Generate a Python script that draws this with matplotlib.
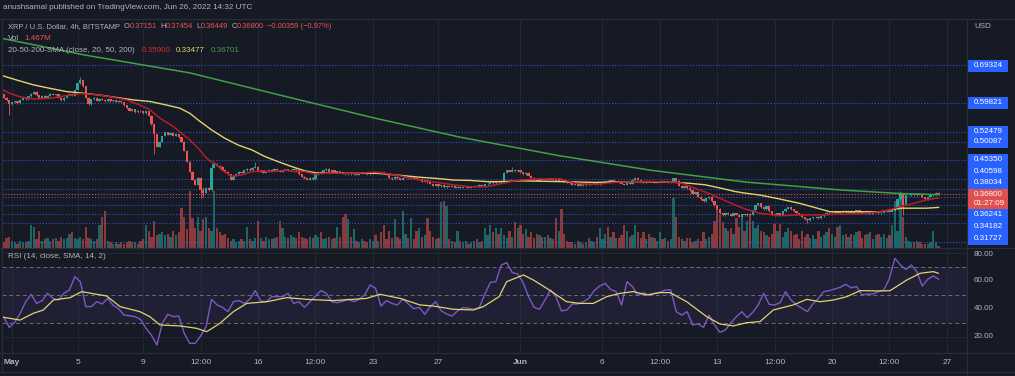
import numpy as np
import matplotlib.pyplot as plt
from matplotlib.patches import Rectangle
from matplotlib.transforms import blended_transform_factory

plt.rcParams['font.family'] = ['Liberation Sans', 'DejaVu Sans']

# ---------------- data ----------------
first_open = 0.630
closes = [
    0.625, 0.620, 0.612, 0.605, 0.595, 0.600, 0.603, 0.598, 0.606, 0.610, 0.608,
    0.615, 0.622, 0.626, 0.618, 0.612, 0.616, 0.611, 0.616, 0.622, 0.619, 0.620,
    0.612, 0.605, 0.611, 0.618, 0.622, 0.616, 0.632, 0.648, 0.655, 0.640, 0.612, 0.595,
    0.608, 0.612, 0.604, 0.609, 0.606, 0.603, 0.608, 0.602, 0.605, 0.601, 0.604, 0.600,
    0.592, 0.585, 0.578, 0.582, 0.575, 0.579, 0.577, 0.572, 0.578, 0.566,
    0.545, 0.520, 0.488, 0.500, 0.515, 0.525, 0.518, 0.522, 0.515, 0.520, 0.512,
    0.500, 0.478, 0.450, 0.425, 0.405, 0.392, 0.410, 0.380, 0.372, 0.385, 0.378,
    0.435, 0.445, 0.440, 0.438, 0.430, 0.425, 0.418, 0.405,
    0.415, 0.420, 0.425, 0.422, 0.428, 0.432, 0.428, 0.435, 0.438,
    0.425, 0.428, 0.422, 0.426, 0.430, 0.427, 0.432, 0.428, 0.425, 0.429, 0.431, 0.427, 0.430,
    0.433, 0.428, 0.418, 0.412, 0.408, 0.404, 0.410, 0.406, 0.418, 0.425, 0.422,
    0.428, 0.432, 0.425, 0.428, 0.422, 0.426, 0.424,
    0.420, 0.418, 0.422, 0.419, 0.421, 0.417, 0.420, 0.423, 0.420, 0.418, 0.421, 0.424, 0.422,
    0.425, 0.423, 0.420, 0.418, 0.410, 0.406, 0.412, 0.408, 0.405,
    0.410, 0.413, 0.409, 0.412, 0.408, 0.404, 0.407, 0.400, 0.403, 0.398,
    0.395, 0.390, 0.393, 0.388, 0.392, 0.386, 0.390, 0.387, 0.389, 0.385,
    0.387, 0.384, 0.386, 0.388, 0.385, 0.387, 0.390, 0.388, 0.392, 0.389, 0.393,
    0.395, 0.398, 0.396, 0.400, 0.398, 0.402, 0.422,
    0.428, 0.425, 0.430, 0.426, 0.428, 0.424, 0.418, 0.422, 0.415,
    0.410, 0.405, 0.402, 0.407, 0.404, 0.406,
    0.404, 0.408, 0.405, 0.402, 0.406, 0.403, 0.400, 0.398, 0.396,
    0.392, 0.394, 0.390, 0.393, 0.391, 0.395, 0.392, 0.394, 0.396, 0.393, 0.395,
    0.398, 0.402, 0.400, 0.403, 0.399, 0.401, 0.398, 0.394, 0.392, 0.397, 0.395,
    0.405, 0.410, 0.404, 0.400, 0.398, 0.402, 0.399, 0.401, 0.397, 0.400, 0.402,
    0.399, 0.401, 0.398, 0.400, 0.408, 0.402,
    0.390, 0.385, 0.388, 0.383, 0.378, 0.370, 0.374, 0.362, 0.355, 0.350, 0.358,
    0.362, 0.350, 0.340, 0.332, 0.320, 0.315, 0.322,
    0.318, 0.314, 0.320, 0.316, 0.312, 0.318, 0.315, 0.319, 0.316,
    0.328, 0.340, 0.345, 0.335, 0.330, 0.338, 0.325, 0.318, 0.315, 0.320, 0.316,
    0.325, 0.332, 0.336, 0.330, 0.325, 0.320, 0.318, 0.310, 0.305, 0.302, 0.308,
    0.310, 0.312, 0.308, 0.313, 0.318, 0.322, 0.320,
    0.322, 0.325, 0.321, 0.324, 0.327, 0.323, 0.326, 0.322, 0.325, 0.328, 0.324,
    0.322, 0.320, 0.323, 0.319, 0.321, 0.324, 0.320, 0.322,
    0.325, 0.327, 0.324, 0.328, 0.330, 0.355, 0.368, 0.342, 0.365,
    0.366, 0.368, 0.365, 0.369, 0.367, 0.360, 0.356,
    0.362, 0.365, 0.368, 0.37151, 0.368,
]
# candles whose wicks stick out clearly
wick_idx = [4, 30, 57, 74, 75, 78, 94, 188, 296, 330, 331]
wick_hi = [0.600, 0.663, 0.545, 0.392, 0.385, 0.446, 0.448, 0.436, 0.308, 0.3745, 0.368]
wick_lo = [0.568, 0.648, 0.472, 0.361, 0.362, 0.378, 0.435, 0.426, 0.296, 0.355, 0.318]

volume = [  # millions
    5, 6, 4, 7, 8, 5, 4, 3, 5, 4,  4, 5, 16, 15, 6, 12, 5, 6, 7, 5,
    6, 7, 5, 8, 6, 7, 10, 11, 7, 6,  8, 6, 15, 7, 6, 5, 6, 16, 22, 26,
    5, 4, 3, 4, 3, 4, 3, 4, 5, 4,  4, 3, 5, 6, 16, 12, 8, 19, 9, 10,
    11, 9, 10, 8, 12, 9, 11, 28, 22, 13,  40, 21, 14, 22, 12, 20, 22, 14, 12, 40,
    14, 11, 9, 10, 7, 5, 6, 4, 5, 6,  5, 15, 6, 5, 7, 19, 7, 5, 8, 6,
    6, 7, 8, 19, 14, 8, 7, 9, 8, 7,  11, 8, 7, 6, 8, 7, 9, 8, 11, 6,
    7, 8, 6, 7, 15, 8, 22, 24, 20, 8,  13, 5, 4, 6, 5, 4, 6, 5, 9, 5,
    11, 16, 6, 12, 7, 20, 8, 6, 26, 10,  7, 21, 6, 12, 14, 8, 9, 21, 12, 8,
    6, 7, 32, 33, 29, 6, 5, 4, 12, 5,  4, 5, 3, 4, 5, 6, 4, 5, 14, 9,
    16, 11, 14, 10, 14, 9, 7, 12, 8, 18,  14, 16, 10, 13, 8, 11, 7, 10, 9, 8,
    8, 9, 7, 6, 21, 12, 27, 10, 5, 4,  4, 3, 5, 4, 3, 4, 7, 5, 4, 8,
    14, 6, 10, 15, 8, 11, 7, 7, 9, 16,  12, 8, 9, 16, 11, 7, 11, 6, 10, 8,
    7, 5, 11, 6, 7, 5, 6, 35, 22, 8,  6, 5, 7, 7, 4, 5, 6, 5, 11, 6,
    8, 10, 19, 27, 23, 18, 14, 12, 14, 10,  21, 15, 23, 12, 19, 23, 19, 14, 16, 12,
    11, 9, 8, 10, 17, 12, 17, 8, 11, 14,  12, 9, 10, 6, 12, 8, 10, 7, 9, 6,
    12, 8, 9, 11, 14, 10, 8, 15, 16, 9,  10, 8, 10, 9, 11, 12, 7, 9, 10, 11,
    6, 9, 10, 8, 10, 7, 9, 16, 33, 12,  37, 22, 8, 5, 4, 4, 5, 4, 3, 3,
    3, 4, 12, 4, 1.467,
]

# RSI(14), one reading every second candle
rsi = [
    36.9, 34.0, 26.9, 30.5, 36.9, 45.2, 50.5, 44.0, 46.0, 51.2,
    47.6, 46.4, 51.2, 53.6, 63.1, 59.5, 41.7, 41.7, 45.2, 43.6,
    47.6, 42.6, 40.2, 35.7, 35.2, 34.5, 32.6, 26.2, 21.4, 14.3,
    29.8, 36.2, 34.5, 35.0, 22.6, 15.5, 15.5, 20.7, 27.4, 46.9,
    42.9, 41.2, 38.1, 45.2, 46.0, 44.0, 47.1, 53.1, 45.7, 45.2,
    48.8, 48.8, 48.8, 51.2, 44.0, 45.2, 41.2, 45.2, 49.3, 53.1,
    51.2, 45.2, 44.5, 45.5, 47.1, 45.2, 46.9, 50.0, 57.1, 54.8,
    42.1, 46.0, 44.0, 42.9, 47.1, 43.6, 40.2, 41.2, 36.2, 41.7,
    45.2, 38.8, 36.4, 35.0, 38.6, 41.0, 40.5, 39.8, 41.2, 50.7,
    59.0, 59.5, 71.4, 73.1, 66.0, 65.0, 58.8, 48.8, 41.2, 39.8,
    46.4, 53.6, 48.8, 38.6, 39.3, 43.6, 43.6, 45.2, 47.6, 53.1,
    56.4, 58.3, 54.0, 52.4, 42.9, 59.5, 56.0, 49.5, 51.7, 50.0,
    51.2, 51.9, 53.6, 53.6, 38.1, 35.7, 38.1, 28.6, 29.3, 26.9,
    35.7, 28.6, 23.3, 25.0, 30.2, 34.5, 38.1, 33.8, 37.6, 42.9,
    51.2, 43.3, 42.9, 44.5, 52.4, 46.4, 42.9, 40.5, 38.1, 43.6,
    47.6, 52.4, 53.1, 54.3, 55.5, 57.6, 55.2, 56.0, 50.0, 50.7,
    50.7, 52.4, 53.6, 61.9, 76.2, 71.4, 68.3, 71.4, 66.7, 56.4,
    61.2, 63.6, 61.3,
]
# moving averages, (days since May 1, value)
rsi_ma_day = [-0.73, 0.49, 1.30, 1.91, 2.52, 3.54, 4.25, 5.16, 5.77, 6.59, 7.80, 8.41, 9.02,
              10.24, 11.26, 11.87, 12.68, 13.50, 14.31, 15.53, 16.75, 17.97, 19.59, 20.81,
              21.63, 22.44, 23.66, 24.88, 25.69, 26.91, 28.13, 28.74, 29.70, 30.16, 31.18,
              31.79, 32.60, 33.82, 34.63, 35.45, 36.26, 37.07, 37.89, 38.70, 39.51, 40.12,
              41.14, 42.36, 43.17, 43.98, 44.80, 45.61, 46.42, 47.64, 48.46, 49.27, 50.08,
              50.90, 51.71, 52.93, 53.54, 54.56, 55.37, 56.18, 56.48]
rsi_ma = [34.5, 32.1, 36.9, 39.3, 46.4, 48.1, 52.4, 50.5, 49.3, 41.7, 38.1, 34.5, 28.6,
          27.9, 26.2, 23.8, 29.8, 38.1, 44.0, 45.2, 48.1, 46.9, 46.0, 46.9,
          47.6, 50.5, 47.6, 42.9, 42.1, 39.8, 39.3, 41.7, 48.8, 59.5, 64.3,
          60.7, 54.8, 45.2, 44.0, 44.0, 48.8, 51.2, 52.4, 50.0, 51.7, 51.7,
          45.2, 34.5, 29.3, 27.9, 30.2, 31.0, 39.3, 42.9, 46.9, 45.2, 46.4,
          48.8, 53.1, 52.9, 53.1, 60.7, 65.5, 66.7, 65.5]

sma20_day = [-0.73, -0.12, 0.49, 1.30, 2.32, 3.33, 4.15, 4.96, 5.98, 6.99, 7.80, 8.41, 9.02,
             9.84, 10.45, 10.85, 11.36, 11.77, 12.07, 12.38, 12.79, 13.40, 14.01, 14.62,
             15.23, 15.84, 16.65, 17.26, 17.87, 18.48, 19.09, 20.10, 21.12, 22.13, 23.05,
             23.86, 24.88, 25.90, 26.91, 27.93, 28.94, 29.96, 30.98, 31.99, 33.41, 34.33,
             35.55, 36.77, 37.99, 39.21, 40.43, 40.84, 41.65, 42.46, 43.27, 44.09, 44.70,
             45.61, 46.83, 48.05, 49.27, 50.49, 51.71, 52.93, 53.54, 54.15, 54.96, 55.77, 56.50]
sma20 = [0.635, 0.622, 0.614, 0.608, 0.610, 0.617, 0.622, 0.620, 0.614, 0.606, 0.593, 0.581, 0.560,
         0.539, 0.518, 0.505, 0.484, 0.463, 0.452, 0.446, 0.429, 0.413, 0.417, 0.425,
         0.427, 0.425, 0.429, 0.425, 0.425, 0.419, 0.421, 0.421, 0.421, 0.424, 0.419,
         0.413, 0.404, 0.398, 0.392, 0.387, 0.387, 0.396, 0.404, 0.407, 0.407, 0.396,
         0.393, 0.398, 0.400, 0.400, 0.398, 0.396, 0.383, 0.371, 0.356, 0.341, 0.331,
         0.320, 0.314, 0.316, 0.316, 0.318, 0.319, 0.324, 0.329, 0.337, 0.345, 0.354, 0.359]

sma50_day = [-0.73, 0.29, 1.30, 2.32, 3.33, 4.35, 5.37, 6.38, 7.40, 8.41, 9.43, 10.24, 10.85,
             11.36, 12.18, 12.99, 13.80, 14.62, 15.43, 16.24, 17.05, 17.87, 18.68, 19.70,
             20.71, 22.13, 22.85, 23.86, 24.88, 25.90, 26.91, 27.93, 28.94, 29.96, 30.98,
             33.41, 35.55, 37.99, 40.43, 41.24, 42.26, 43.27, 44.09, 44.70, 45.61, 46.83,
             48.05, 49.27, 49.88, 51.71, 52.93, 54.15, 55.77, 56.50]
sma50 = [0.669, 0.656, 0.644, 0.635, 0.627, 0.623, 0.618, 0.612, 0.606, 0.602, 0.593, 0.585, 0.572,
         0.555, 0.530, 0.509, 0.492, 0.480, 0.463, 0.450, 0.438, 0.427, 0.421, 0.421,
         0.421, 0.421, 0.419, 0.415, 0.411, 0.408, 0.404, 0.403, 0.400, 0.400, 0.402,
         0.400, 0.398, 0.400, 0.398, 0.396, 0.392, 0.383, 0.375, 0.371, 0.366, 0.356,
         0.345, 0.331, 0.324, 0.324, 0.324, 0.333, 0.333, 0.335]

sma200_day = [-0.73, 4.45, 10.85, 16.34, 22.13, 27.32, 33.41, 38.90, 44.70, 50.49, 54.15, 56.50]
sma200 = [0.762, 0.719, 0.674, 0.618, 0.560, 0.512, 0.465, 0.429, 0.399, 0.379, 0.370, 0.367]

# horizontal levels drawn on the chart
levels = [0.69324, 0.59821, 0.52479, 0.50087, 0.45350, 0.40598, 0.38034, 0.36241, 0.34182, 0.31727]
extra_levels = [0.2964, 0.2485]
level_label_row = [65.5, 102.5, 131.5, 141.5, 160, 171.5, 183, 214.5, 226.5, 238.5]

tick_days = [0, 4, 8, 11.5, 15, 18.5, 22, 26, 31, 36, 39.5, 43, 46.5, 50, 53.5, 57]
tick_labels = ['May', '5', '9', '12:00', '16', '12:00', '23', '27',
               'Jun', '6', '12:00', '13', '12:00', '20', '12:00', '27']

# ---------------- style ----------------
BG = '#161a25'
TXT = '#b2b5be'
UP, DN = '#26a69a', '#ef5350'
GRID = '#222632'
SEP = '#2a2e39'
FS = 5.8
W, H = 1015, 376


def rect(x0, y0, x1, y1):
    return [x0 / W, 1 - y1 / H, (x1 - x0) / W, (y1 - y0) / H]


fig = plt.figure(figsize=(W / 100, H / 100), dpi=100, facecolor=BG)

# price pane: row 194.3 is 0.368, 0.002521 per pixel
ROW0, P0, PPX = 194.3, 0.368, 0.002521
XLIM = (-0.61, 58.23)

ax_v = fig.add_axes(rect(2, 19, 967, 248))
ax_v.set_facecolor(BG)
ax = fig.add_axes(rect(2, 19, 967, 248), sharex=ax_v)
ax.patch.set_visible(False)
ax_r = fig.add_axes(rect(2, 248, 967, 353))
ax_r.set_facecolor(BG)

n = len(closes)
days = 56.5 - (n - 1 - np.arange(n)) / 6
c = np.array(closes)
o = np.array([first_open] + closes[:-1])
hi = np.maximum(o, c)
lo = np.minimum(o, c)
for i, h, l in zip(wick_idx, wick_hi, wick_lo):
    hi[i] = max(hi[i], h)
    lo[i] = min(lo[i], l)
cols = np.where(c >= o, UP, DN)

for a in (ax_v, ax, ax_r):
    a.set_xlim(*XLIM)
    for s in a.spines.values():
        s.set_visible(False)
    a.tick_params(left=False, bottom=False, labelleft=False, labelbottom=False)

for d in tick_days:
    ax_v.axvline(d, color=GRID, lw=0.8, zorder=0)
    ax_r.axvline(d, color=GRID, lw=0.8, zorder=0)

ax_v.bar(days, volume, width=0.14, color=cols, alpha=0.55, lw=0)
ax_v.set_ylim(0, 160)

ax.set_ylim(P0 - (248 - ROW0) * PPX, P0 + (ROW0 - 19) * PPX)
for lv in levels + extra_levels:
    ax.axhline(lv, color='#2f56c9', lw=0.8, ls=(0, (1, 1.6)), zorder=1)
ax.axhline(closes[-1], color='#e0574f', lw=0.8, ls=(0, (1, 1.6)), zorder=1)

ax.vlines(days, lo - 0.0012, hi + 0.0012, colors=cols, lw=0.6, zorder=3)
body = np.maximum(np.abs(c - o), 0.0012)
ax.bar(days, body, bottom=np.minimum(o, c), width=0.14, color=cols, lw=0, zorder=3)

ax.plot(sma200_day, sma200, color='#43a047', lw=1.1, zorder=4)
ax.plot(sma50_day, sma50, color='#e3d46a', lw=1.0, zorder=4)
ax.plot(sma20_day, sma20, color='#b71c2c', lw=1.1, zorder=4)

# RSI pane: row 295 is 50, 1.4 px per point
ax_r.set_ylim(50 - (353 - 295) / 1.4, 50 + (295 - 248) / 1.4)
ax_r.axhspan(30, 70, color='#7e57c2', alpha=0.1, lw=0)
for lv in (70, 50, 30):
    ax_r.axhline(lv, color='#6b6e7a', lw=0.7, ls=(0, (4, 3)))
for lv in (20, 80):
    ax_r.axhline(lv, color=GRID, lw=0.8)
ax_r.plot(days[::2], rsi, color='#7e57c2', lw=1.0)
ax_r.plot(rsi_ma_day, rsi_ma, color='#e3d46a', lw=0.9)

tr = blended_transform_factory(ax_r.transData, fig.transFigure)
for d, lab in zip(tick_days, tick_labels):
    ax_r.text(d, 1 - 363 / H, lab, transform=tr, ha='center', va='center', color=TXT,
              fontsize=6.0, fontweight='bold' if lab in ('May', 'Jun') else 'normal')

# separators
for (x0, y0, x1, y1) in [(967, 19, 967, 376), (0, 248, 1015, 248), (0, 353, 1015, 353),
                         (0, 19, 1015, 19), (2, 19, 2, 372), (0, 372, 1015, 372)]:
    fig.add_artist(plt.Line2D([x0 / W, x1 / W], [1 - y0 / H, 1 - y1 / H], color=SEP, lw=0.8))


def chain(x, y, parts, size=FS):
    t = fig.text(x / W, 1 - y / H, parts[0][0], color=parts[0][1], fontsize=size, va='center')
    for s, col, gap in parts[1:]:
        t = ax.annotate(s, xy=(1, 0), xycoords=t, xytext=(gap, 0), textcoords='offset points',
                        color=col, fontsize=size, va='bottom', ha='left', annotation_clip=False)


fig.text(3 / W, 1 - 7.5 / H, 'anushsamal published on TradingView.com, Jun 26, 2022 14:32 UTC',
         color=TXT, fontsize=5.9, va='center')
chain(8, 27, [('XRP / U.S. Dollar, 4h, BITSTAMP', TXT), ('O', TXT, 2.5), ('0.37151', DN, 0),
              ('H', TXT, 2.5), ('0.37454', DN, 0), ('L', TXT, 2.5), ('0.36449', DN, 0),
              ('C', TXT, 2.5), ('0.36800', DN, 0), ('\u22120.00359 (\u22120.97%)', DN, 2.5)],
      size=5.4)
chain(8, 39, [('Vol', TXT), ('1.467M', DN, 4)])
chain(8, 51, [('20-50-200-SMA (close, 20, 50, 200)', TXT), ('0.35900', '#d32f2f', 5),
              ('0.33477', '#e3d46a', 4), ('0.36701', '#43a047', 4)])
chain(8, 256, [('RSI (14, close, SMA, 14, 2)', TXT), ('61.34', '#7e57c2', 4),
               ('65.54', '#e3d46a', 4), ('\u00f8', TXT, 4), ('\u00f8', TXT, 4)])

# right-hand price scale
fig.text(974 / W, 1 - 26 / H, 'USD', color=TXT, fontsize=FS, va='center')
for lv, row in zip(levels, level_label_row):
    fig.add_artist(Rectangle((968 / W, 1 - (row + 6) / H), 40 / W, 12 / H,
                             transform=fig.transFigure, color='#2962ff', lw=0))
    fig.text(974 / W, 1 - row / H, f'{lv:.5f}', color='white', fontsize=FS, va='center')
fig.add_artist(Rectangle((968 / W, 1 - 209 / H), 40 / W, 20 / H,
                         transform=fig.transFigure, color='#e0504f', lw=0))
fig.text(974 / W, 1 - 194.5 / H, f'{closes[-1]:.5f}', color='white', fontsize=FS, va='center')
fig.text(974 / W, 1 - 203.5 / H, '01:27:09', color='white', fontsize=FS, va='center')
for v, row in zip([80, 60, 40, 20], [254, 281, 309, 336]):
    fig.text(974 / W, 1 - row / H, f'{v:.2f}', color=TXT, fontsize=FS, va='center')

fig.savefig('out.png', dpi=100, facecolor=BG)
